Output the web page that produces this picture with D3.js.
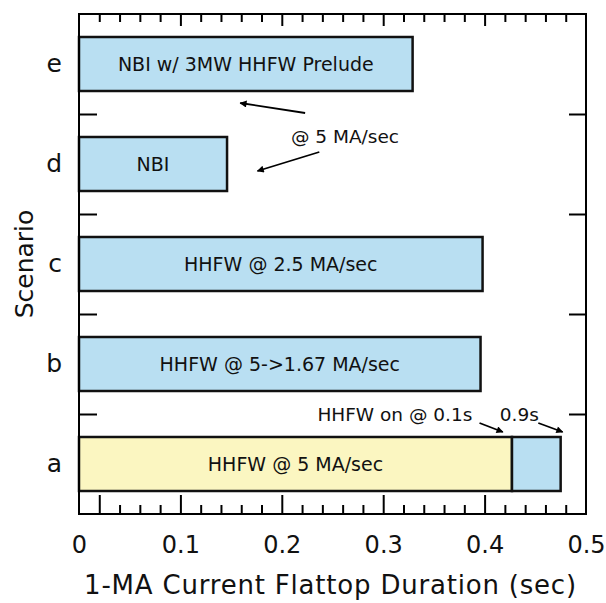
<!DOCTYPE html>
<html>
<head>
    <title>Flattop Duration</title>
    <style>
        body { margin: 0; background: #fff; }
        text { font-family: "DejaVu Sans", sans-serif; fill: #111; }
        .tick line { stroke: #000; stroke-width: 2px; }
        .bar { stroke: #111; stroke-width: 2.5px; }
        .ann line { stroke: #000; stroke-width: 1.8px; }
    </style>
</head>
<body>
    <div id="chart"></div>

    <script src="https://d3js.org/d3.v7.min.js"></script>
    <script>
        // values
        const scenarios = ["a", "b", "c", "d", "e"];
        const firstPhase = [0.427, 0.396, 0.398, 0.146, 0.329];
        const secondPhase = [0.048, 0, 0, 0, 0];
        const barLabels = ["HHFW @ 5 MA/sec", "HHFW @ 5->1.67 MA/sec", "HHFW @ 2.5 MA/sec", "NBI", "NBI w/ 3MW HHFW Prelude"];
        const xTicks = [0, 0.1, 0.2, 0.3, 0.4, 0.5];
        const xMinor = d3.range(1, 25).map(i => i * 0.02);

        const width = 606, height = 603;
        const m = {left: 79, right: 20, top: 14, bottom: 89};

        const svg = d3.select("#chart").append("svg")
            .attr("width", width)
            .attr("height", height);

        const x = d3.scaleLinear().domain([0, 0.5]).range([m.left, width - m.right]);
        const y = d3.scaleBand().domain(scenarios.slice().reverse())
            .range([m.top, height - m.bottom])
            .paddingInner(0.46).paddingOuter(0.23);
        // continuous scenario index, a = 0 ... e = 4
        const yi = d3.scaleLinear().domain([-0.5, 4.5]).range([height - m.bottom, m.top]);

        const yBot = height - m.bottom, yTop = m.top;
        const isLong = v => [0.02, 0.1, 0.2, 0.3, 0.4].some(t => Math.abs(t - v) < 1e-6);

        // bottom ticks (inward)
        svg.append("g").attr("transform", `translate(0,${yBot})`)
            .call(d3.axisBottom(x).tickValues(xMinor.filter(isLong)).tickSize(-19).tickFormat(""))
            .call(g => g.select(".domain").remove());
        svg.append("g").attr("transform", `translate(0,${yBot})`)
            .call(d3.axisBottom(x).tickValues(xMinor.filter(v => !isLong(v))).tickSize(-9).tickFormat(""))
            .call(g => g.select(".domain").remove());
        // top ticks
        svg.append("g").attr("transform", `translate(0,${yTop})`)
            .call(d3.axisTop(x).tickValues(xMinor.filter(v => isLong(v) && v > 0.05)).tickSize(-12).tickFormat(""))
            .call(g => g.select(".domain").remove());
        svg.append("g").attr("transform", `translate(0,${yTop})`)
            .call(d3.axisTop(x).tickValues(xMinor.filter(v => !(isLong(v) && v > 0.05))).tickSize(-8).tickFormat(""))
            .call(g => g.select(".domain").remove());

        // x labels
        svg.append("g").attr("transform", `translate(0,${yBot})`)
            .call(d3.axisBottom(x).tickValues(xTicks).tickSize(0).tickPadding(22).tickFormat(d3.format("")))
            .call(g => g.select(".domain").remove())
            .call(g => g.selectAll("text").style("font-size", "24px"));

        // y boundary ticks
        const yBounds = [0.5, 1.5, 2.5, 3.5];
        svg.append("g").attr("transform", `translate(${m.left},0)`)
            .call(d3.axisLeft(yi).tickValues(yBounds).tickSize(-18).tickFormat(""))
            .call(g => g.select(".domain").remove());
        svg.append("g").attr("transform", `translate(${width - m.right},0)`)
            .call(d3.axisRight(yi).tickValues(yBounds).tickSize(-17).tickFormat(""))
            .call(g => g.select(".domain").remove());

        // category labels
        svg.append("g").attr("transform", `translate(${m.left},0)`)
            .call(d3.axisLeft(y).tickSize(0).tickPadding(17))
            .call(g => g.select(".domain").remove())
            .call(g => g.selectAll("text").style("font-size", "25px"));

        // bars
        const rows = scenarios.map((s, i) => ({s, p1: firstPhase[i], p2: secondPhase[i], label: barLabels[i]}));
        const bars = svg.append("g");
        bars.selectAll(".p1").data(rows).join("rect")
            .attr("class", "bar p1")
            .attr("x", x(0))
            .attr("y", d => y(d.s))
            .attr("width", d => x(d.p1) - x(0))
            .attr("height", y.bandwidth())
            .attr("fill", d => d.p2 > 0 ? "#fbf6c1" : "#b9dff2");
        bars.selectAll(".p2").data(rows.filter(d => d.p2 > 0)).join("rect")
            .attr("class", "bar p2")
            .attr("x", d => x(d.p1))
            .attr("y", d => y(d.s))
            .attr("width", d => x(d.p1 + d.p2) - x(d.p1))
            .attr("height", y.bandwidth())
            .attr("fill", "#b9dff2");
        bars.selectAll(".lbl").data(rows).join("text")
            .attr("class", "lbl")
            .attr("x", d => (x(0) + x(d.p1)) / 2)
            .attr("y", d => y(d.s) + y.bandwidth() / 2)
            .attr("dy", "0.38em")
            .attr("text-anchor", "middle")
            .style("font-size", "19px")
            .text(d => d.label);

        // frame
        svg.append("rect")
            .attr("x", m.left).attr("y", yTop)
            .attr("width", width - m.right - m.left).attr("height", yBot - yTop)
            .attr("fill", "none").attr("stroke", "#000").attr("stroke-width", 2);

        // annotations (data units: duration, scenario index)
        svg.append("defs").append("marker")
            .attr("id", "head").attr("viewBox", "0 0 10 10")
            .attr("refX", 9).attr("refY", 5)
            .attr("markerWidth", 11).attr("markerHeight", 7)
            .attr("markerUnits", "userSpaceOnUse")
            .attr("orient", "auto")
            .append("path").attr("d", "M0,0L10,5L0,10z").attr("fill", "#000");

        const arrows = [
            [0.223, 3.51, 0.159, 3.61],
            [0.237, 3.12, 0.176, 2.93],
            [0.395, 0.41, 0.418, 0.32],
            [0.453, 0.41, 0.477, 0.32]
        ];
        svg.append("g").attr("class", "ann").selectAll("line").data(arrows).join("line")
            .attr("x1", d => x(d[0])).attr("y1", d => yi(d[1]))
            .attr("x2", d => x(d[2])).attr("y2", d => yi(d[3]))
            .attr("marker-end", "url(#head)");

        const notes = [
            {t: "@ 5 MA/sec", x: 0.209, i: 3.21, anchor: "start"},
            {t: "HHFW on @ 0.1s", x: 0.388, i: 0.43, anchor: "end"},
            {t: "0.9s", x: 0.415, i: 0.43, anchor: "start"}
        ];
        svg.append("g").selectAll("text").data(notes).join("text")
            .attr("x", d => x(d.x)).attr("y", d => yi(d.i))
            .attr("text-anchor", d => d.anchor)
            .style("font-size", "18.5px")
            .text(d => d.t);

        // axis titles
        svg.append("text")
            .attr("x", (m.left + width - m.right) / 2 - 2).attr("y", 594)
            .attr("text-anchor", "middle")
            .style("font-size", "26px")
            .style("letter-spacing", "0.8px")
            .text("1-MA Current Flattop Duration (sec)");
        svg.append("text")
            .attr("transform", `translate(33,${(yTop + yBot) / 2}) rotate(-90)`)
            .attr("text-anchor", "middle")
            .style("font-size", "25px")
            .text("Scenario");
    </script>
</body>
</html>
